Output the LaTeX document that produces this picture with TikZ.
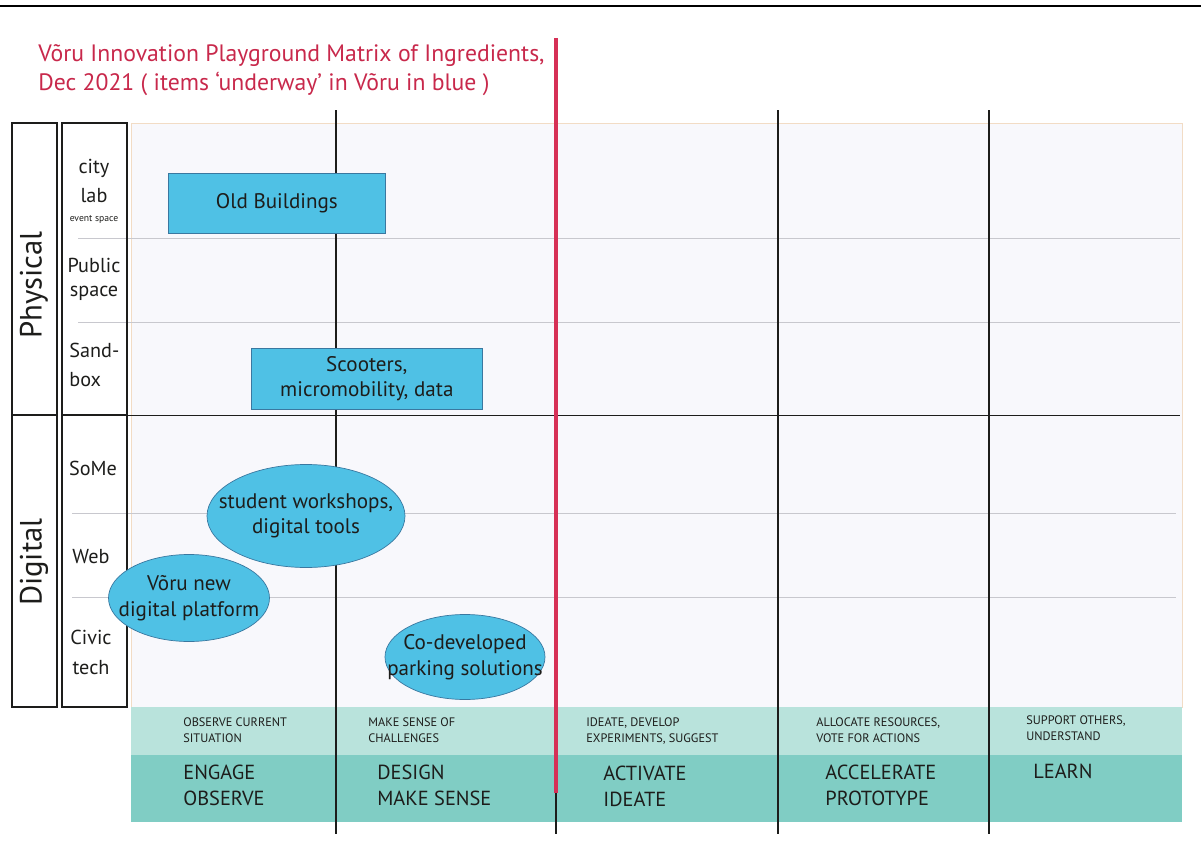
\documentclass[tikz,border=0pt]{standalone}
\usepackage{fontspec}
\setmainfont{PT Sans}
\usetikzlibrary{positioning,shapes.geometric}
\definecolor{colortitle}  {RGB}{200,40 ,75 }
\definecolor{colorred}    {RGB}{214,48 ,86 }
\definecolor{colortext}   {RGB}{29 ,29 ,27 }
\definecolor{colorfield}  {RGB}{248,248,252}
\definecolor{colorframe}  {RGB}{242,220,197}
\definecolor{colorgrid}   {RGB}{200,200,206}
\definecolor{colorbox}    {RGB}{79 ,193,229}
\definecolor{colorboxline}{RGB}{58 ,120,160}
\definecolor{colorband}   {RGB}{185,227,220}
\definecolor{colorphase}  {RGB}{128,205,196}

\begin{document}
\begin{tikzpicture}[
    x=0.02cm, y=-0.02cm,
    title/.style={text=colortitle,font={\fontsize{13.5}{16}\selectfont},anchor=west,inner sep=0pt},
    side/.style={text=colortext,font={\fontsize{17.5}{20}\selectfont},rotate=90,inner sep=0pt},
    row/.style={text=colortext,font={\fontsize{11.5}{14}\selectfont},inner sep=0pt},
    item/.style={text=colortext,font={\fontsize{12}{14.5}\selectfont},align=center,inner sep=0pt},
    rectitem/.style={draw=colorboxline,fill=colorbox,rectangle,anchor=north west},
    ellitem/.style={draw=colorboxline,fill=colorbox,ellipse,inner sep=0pt},
    hint/.style={text=colortext,font={\fontsize{7}{9.6}\selectfont},align=left,anchor=north west,inner sep=0pt},
    phase/.style={text=colortext,font={\fontsize{11.6}{14.7}\selectfont},align=left,anchor=north west,inner sep=0pt},
]
    \useasboundingbox (0,0) rectangle (1201,852);
    \draw[thick] (0,6) -- (1201,6);

    % Title
    \node[title] (title1) at (38,56) {Võru Innovation Playground Matrix of Ingredients,};
    \node[title] (title2) at (38,84) {Dec 2021 ( items ‘underway’ in Võru in blue )};

    % Field and bands
    \draw[colorframe,fill=colorfield] (131,123) rectangle (1182,707);
    \fill[colorband]  (131,707) rectangle (1182,755);
    \fill[colorphase] (131,755) rectangle (1182,822);
    \foreach \y in {238,322} \draw[colorgrid] (78,\y) -- (1180,\y);
    \foreach \y in {513,597} \draw[colorgrid] (72,\y) -- (1176,\y);
    \draw[colortext] (127,415) -- (1180,415);

    % Phase lines
    \foreach \x in {336,778,989} \draw[colortext,thick] (\x,110) -- (\x,834);
    \draw[colortext,thick] (556,790) -- (556,834);
    \draw[colorred,line width=2.2pt] (556,38) -- (556,793);

    % Left headers
    \draw[colortext,semithick] (12,123) rectangle (57,415);
    \draw[colortext,semithick] (12,415) rectangle (57,707);
    \draw[colortext,semithick] (62,123) rectangle (127,415);
    \draw[colortext,semithick] (62,415) rectangle (127,707);
    \node[side] (physical) at (34,285) {Physical};
    \node[side] (digital)  at (34,562) {Digital};
    \node[row] (city)   at (94,168) {city};
    \node[row] (lab)    at (94,196) {lab};
    \node[row,font={\fontsize{5.5}{7}\selectfont}] (event) at (94,219) {event space};
    \node[row] (public) at (94,265) {Public};
    \node[row] (space)  at (94,293) {space};
    \node[row,anchor=west] (sand) at (69,350) {Sand-};
    \node[row,anchor=west] (box)  at (69,380) {box};
    \node[row] (some)  at (93,468) {SoMe};
    \node[row] (web)   at (91,557) {Web};
    \node[row] (civic) at (91,637) {Civic};
    \node[row] (tech)  at (91,668) {tech};

    % Items
    \node[rectitem,minimum width=217*0.02cm,minimum height=60*0.02cm] (oldbuild) at (168,173) {};
    \node[item] at (oldbuild.center) {Old Buildings};
    \node[rectitem,minimum width=231*0.02cm,minimum height=61*0.02cm] (scooters) at (251,348) {};
    \node[item] at (scooters.center) {Scooters,\\micromobility, data};
    \node[ellitem,minimum width=198*0.02cm,minimum height=103*0.02cm] (workshops) at (306,516) {};
    \node[item] at (workshops.center) {student workshops,\\digital tools};
    \node[ellitem,minimum width=161*0.02cm,minimum height=87*0.02cm] (platform) at (189,598) {};
    \node[item] at (platform.center) {Võru new\\digital platform};
    \node[ellitem,minimum width=160*0.02cm,minimum height=85*0.02cm] (parking) at (465,657) {};
    \node[item] at (parking.center) {Co-developed\\parking solutions};

    % Phases
    \node[hint] (hint1) at (183,717) {OBSERVE CURRENT\\SITUATION};
    \node[hint] (hint2) at (368,717) {MAKE SENSE OF\\CHALLENGES};
    \node[hint] (hint3) at (586,717) {IDEATE, DEVELOP\\EXPERIMENTS, SUGGEST};
    \node[hint] (hint4) at (816,717) {ALLOCATE RESOURCES,\\VOTE FOR ACTIONS};
    \node[hint] (hint5) at (1026,715) {SUPPORT OTHERS,\\UNDERSTAND};
    \node[phase] (phase1) at (183,765) {ENGAGE\\OBSERVE};
    \node[phase] (phase2) at (377,765) {DESIGN\\MAKE SENSE};
    \node[phase] (phase3) at (603,766) {ACTIVATE\\IDEATE};
    \node[phase] (phase4) at (825,765) {ACCELERATE\\PROTOTYPE};
    \node[phase] (phase5) at (1033,764) {LEARN};

\end{tikzpicture}
\end{document}
